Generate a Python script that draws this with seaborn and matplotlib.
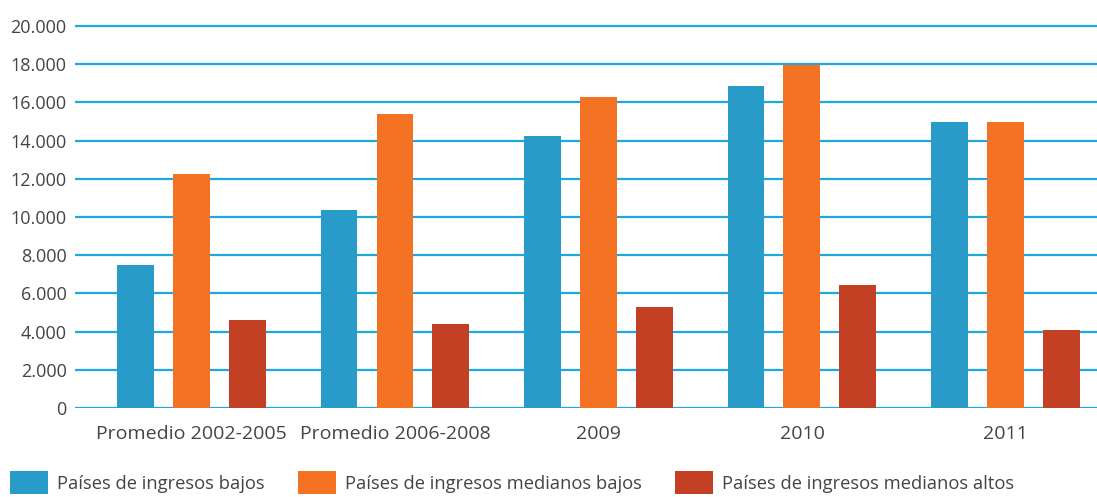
import pandas as pd
import seaborn as sns
import matplotlib.pyplot as plt
import matplotlib.ticker as mticker

# values
periodos = ['Promedio 2002-2005', 'Promedio 2006-2008', '2009', '2010', '2011']
grupos = ['Países de ingresos bajos', 'Países de ingresos medianos bajos', 'Países de ingresos medianos altos']
bajos = [7490, 10350, 14240, 16870, 14990]
medianos_bajos = [12250, 15410, 16300, 17940, 14990]
medianos_altos = [4600, 4400, 5270, 6420, 4070]
colores = ['#299bc8', '#f37224', '#c44025']

df = pd.DataFrame({
    'periodo': periodos * 3,
    'grupo': [g for g in grupos for _ in periodos],
    'valor': bajos + medianos_bajos + medianos_altos,
})

sns.set_style('white')
plt.rcParams['font.family'] = ['Open Sans', 'DejaVu Sans']
texto = '#444444'
linea = '#1fa8e0'

fig = plt.figure(figsize=(10.97, 4.97), dpi=100)
# axes box: x 75..1097 px, y 0 at 408 px, 20200 at ~22 px
ax = fig.add_axes([75 / 1097, 1 - 408 / 497, 1 - 75 / 1097, (408 - 22.2) / 497])

sns.barplot(data=df, x='periodo', y='valor', hue='grupo', palette=colores, saturation=1,
            width=0.825, gap=0.34, linewidth=0, ax=ax, zorder=3)

ax.set_ylim(0, 20200)
ax.set_xlim(-0.5725, 4.45)
ax.yaxis.set_major_locator(mticker.MultipleLocator(2000))
ax.yaxis.set_major_formatter(mticker.FuncFormatter(lambda v, p: f'{int(v):,}'.replace(',', '.')))
ax.grid(axis='y', color=linea, linewidth=1.6, zorder=0)
ax.grid(axis='x', visible=False)
ax.set_axisbelow(True)
sns.despine(ax=ax, left=True, bottom=True)
ax.set_xlabel('')
ax.set_ylabel('')
ax.tick_params(axis='y', length=0, pad=6, labelsize=13, labelcolor=texto)
ax.tick_params(axis='x', length=0, pad=12, labelsize=14, labelcolor=texto)

sns.move_legend(ax, 'lower left', bbox_to_anchor=(0.009, 0.006), bbox_transform=fig.transFigure,
                ncol=3, frameon=False, title=None, fontsize=13.2,
                handlelength=2.07, handleheight=1.55, handletextpad=0.5,
                columnspacing=1.8, borderaxespad=0, borderpad=0)
for t in ax.get_legend().get_texts():
    t.set_color(texto)

fig.savefig('out.png', dpi=100)
